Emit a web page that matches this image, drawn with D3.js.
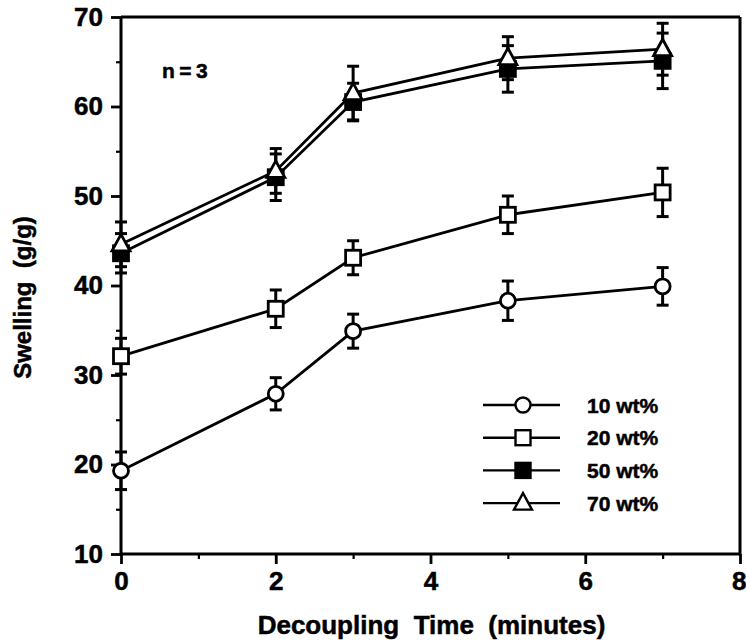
<!DOCTYPE html>
<html>
<head>
<meta charset="utf-8">
<script src="https://cdn.jsdelivr.net/npm/d3@7"></script>
<style>
  html, body { margin: 0; padding: 0; background: #fff; }
  svg { display: block; }
  text { font-family: "Liberation Sans", Arial, Helvetica, sans-serif; font-weight: bold; fill: #000; stroke: #000; stroke-width: 0.5px; }
</style>
</head>
<body>
<svg id="chart" width="746" height="642"></svg>
<script>
// Decoupling time (minutes) for each measurement
const times = [0, 2, 3, 5, 7];

// Series names and styles of marker
const seriesNames = ["10 wt%", "20 wt%", "50 wt%", "70 wt%"];
const seriesMarkers = ["circle", "square", "filledSquare", "triangle"];

// Mean swelling (g/g) per series
const swell10 = [19.3, 27.9, 34.9, 38.3, 39.9];
const swell20 = [32.1, 37.4, 43.1, 47.9, 50.4];
const swell50 = [43.6, 52.1, 60.5, 64.2, 65.1];
const swell70 = [44.6, 52.8, 61.5, 65.4, 66.4];

// Standard deviations (n = 3)
const err10 = [2.1, 1.8, 1.9, 2.2, 2.1];
const err20 = [2.0, 2.1, 1.9, 2.1, 2.7];
const err50 = [2.2, 2.6, 2.1, 2.6, 3.1];
const err70 = [2.5, 2.5, 3.0, 2.4, 2.9];

// Axis ticks
const xTicks = [0, 2, 4, 6, 8];
const xMinorTicks = [1, 3, 5, 7];
const yTicks = [10, 20, 30, 40, 50, 60, 70];
const yMinorTicks = [15, 25, 35, 45, 55, 65];

const sampleNote = "n=3";
const xTitle = "Decoupling  Time  (minutes)";
const yTitle = "Swelling  (g/g)";

const means = [swell10, swell20, swell50, swell70];
const errs = [err10, err20, err50, err70];
const series = seriesNames.map((name, i) => ({
  name,
  marker: seriesMarkers[i],
  points: times.map((t, j) => ({ t, v: means[i][j], e: errs[i][j] }))
}));

const svg = d3.select("#chart");
const margin = { left: 121, top: 17, right: 6, bottom: 88 };
const W = 746 - margin.left - margin.right;
const H = 642 - margin.top - margin.bottom;

const x = d3.scaleLinear().domain([0, 8]).range([0, W]);
const y = d3.scaleLinear().domain([10, 70]).range([H, 0]);

const g = svg.append("g").attr("transform", `translate(${margin.left},${margin.top})`);

// Frame: top and right edges
g.append("line").attr("x1", 0).attr("x2", W).attr("y1", 0).attr("y2", 0)
  .attr("stroke", "#000").attr("stroke-width", 3);
g.append("line").attr("x1", W).attr("x2", W).attr("y1", 0).attr("y2", H)
  .attr("stroke", "#000").attr("stroke-width", 3);

// Minor ticks
const xMinor = g.append("g").attr("transform", `translate(0,${H})`)
  .call(d3.axisBottom(x).tickValues(xMinorTicks).tickSize(5).tickFormat(""));
const yMinor = g.append("g")
  .call(d3.axisLeft(y).tickValues(yMinorTicks).tickSize(5).tickFormat(""));
[xMinor, yMinor].forEach(a => {
  a.select(".domain").remove();
  a.selectAll("line").attr("stroke", "#000").attr("stroke-width", 2.2);
});

// Major axes
const xAxis = g.append("g").attr("transform", `translate(0,${H})`)
  .call(d3.axisBottom(x).tickValues(xTicks).tickSize(10).tickPadding(8).tickFormat(d3.format("d")));
const yAxis = g.append("g")
  .call(d3.axisLeft(y).tickValues(yTicks).tickSize(10).tickPadding(8).tickFormat(d3.format("d")));
[xAxis, yAxis].forEach(a => {
  a.select(".domain").attr("stroke", "#000").attr("stroke-width", 3);
  a.selectAll(".tick line").attr("stroke", "#000").attr("stroke-width", 2.8);
  a.selectAll("text").attr("font-size", 26).attr("font-family", null).style("font-weight", "bold");
});
xAxis.select(".domain").attr("d", `M0,0H${W}`);
yAxis.select(".domain").attr("d", `M0,${H}V0`);
// Keep the last x label inside the page edge
xAxis.selectAll(".tick text").filter(d => d === 8)
  .attr("text-anchor", "end").attr("dx", 6);

// Series lines
const line = d3.line().x(d => x(d.t)).y(d => y(d.v));
g.selectAll(".series-line").data(series).join("path")
  .attr("class", "series-line")
  .attr("d", d => line(d.points))
  .attr("fill", "none").attr("stroke", "#000").attr("stroke-width", 2.8);

// Error bars with caps
const cap = 6;
const bars = g.selectAll(".err").data(series.flatMap(s => s.points)).join("g").attr("class", "err");
bars.append("line")
  .attr("x1", d => x(d.t)).attr("x2", d => x(d.t))
  .attr("y1", d => y(d.v - d.e)).attr("y2", d => y(d.v + d.e));
bars.append("line")
  .attr("x1", d => x(d.t) - cap).attr("x2", d => x(d.t) + cap)
  .attr("y1", d => y(d.v + d.e)).attr("y2", d => y(d.v + d.e));
bars.append("line")
  .attr("x1", d => x(d.t) - cap).attr("x2", d => x(d.t) + cap)
  .attr("y1", d => y(d.v - d.e)).attr("y2", d => y(d.v - d.e));
bars.selectAll("line").attr("stroke", "#000").attr("stroke-width", 3);

// Marker drawing
function drawMarker(sel, type, sw) {
  if (type === "circle") {
    sel.append("circle").attr("r", 7.5).attr("fill", "#fff").attr("stroke", "#000").attr("stroke-width", sw);
  } else if (type === "square") {
    sel.append("rect").attr("x", -7.5).attr("y", -7.5).attr("width", 15).attr("height", 15)
      .attr("fill", "#fff").attr("stroke", "#000").attr("stroke-width", sw);
  } else if (type === "filledSquare") {
    sel.append("rect").attr("x", -7.5).attr("y", -7.5).attr("width", 15).attr("height", 15)
      .attr("fill", "#000").attr("stroke", "#000").attr("stroke-width", sw);
  } else {
    sel.append("path").attr("d", "M0,-10L9,6.5L-9,6.5Z")
      .attr("fill", "#fff").attr("stroke", "#000").attr("stroke-width", sw).attr("stroke-linejoin", "miter");
  }
}

series.forEach(s => {
  g.selectAll(null).data(s.points).join("g")
    .attr("transform", d => `translate(${x(d.t)},${y(d.v)})`)
    .each(function () { drawMarker(d3.select(this), s.marker, 2.8); });
});

// Sample size note
g.append("text").attr("x", x(0.53)).attr("y", y(63.2))
  .attr("font-size", 21).attr("letter-spacing", 4.5).text(sampleNote);

// Legend
const legend = svg.append("g").attr("transform", "translate(483,405)");
const rowGap = 32.7;
series.forEach((s, i) => {
  const row = legend.append("g").attr("transform", `translate(0,${i * rowGap})`);
  row.append("line").attr("x1", 0).attr("x2", 77).attr("y1", 0).attr("y2", 0)
    .attr("stroke", "#000").attr("stroke-width", 2.4);
  const m = row.append("g").attr("transform", "translate(40,0)");
  drawMarker(m, s.marker, 2.4);
  row.append("text").attr("x", 104).attr("y", 0).attr("dy", "0.36em")
    .attr("font-size", 21).text(s.name);
});

// Axis titles
svg.append("text").attr("x", margin.left + W / 2 + 1).attr("y", 634)
  .attr("text-anchor", "middle").attr("font-size", 26).style("white-space", "pre").text(xTitle);
svg.append("text")
  .attr("transform", `translate(31,${margin.top + H / 2 + 12}) rotate(-90)`)
  .attr("text-anchor", "middle").attr("font-size", 24).style("white-space", "pre").text(yTitle);
</script>
</body>
</html>
